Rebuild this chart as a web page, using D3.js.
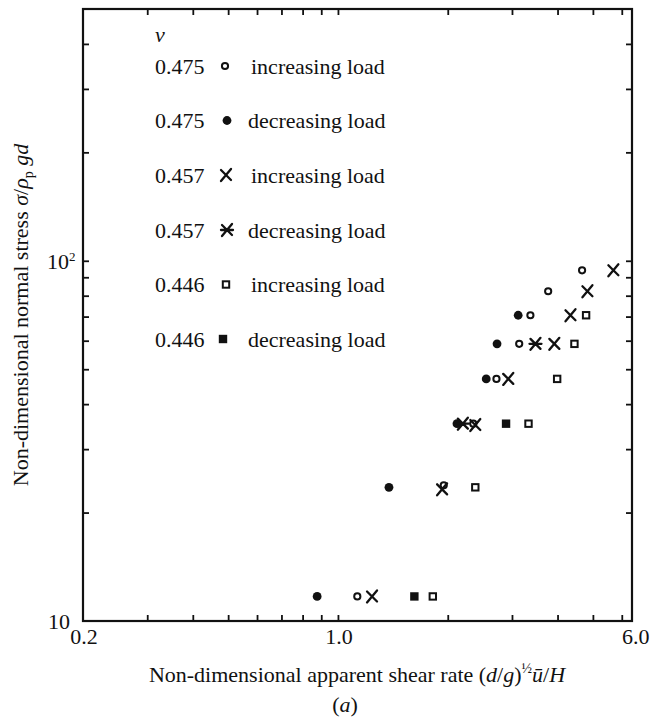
<!DOCTYPE html>
<html>
<head>
<meta charset="utf-8">
<script src="https://cdn.jsdelivr.net/npm/d3@7/dist/d3.min.js"></script>
<style>
  html, body { margin: 0; padding: 0; background: #fff; }
  svg { display: block; }
  text { font-family: "Liberation Serif", "Times New Roman", serif; fill: #111; }
</style>
</head>
<body>
<svg id="chart" width="650" height="720"></svg>
<script>
// Normal stress levels (one per load step)
const stressSteps = [11.7, 23.5, 35.3, 47.0, 58.8, 70.6, 82.3, 94.1];

// nu = 0.475
const stress475Inc = [11.7, 23.8, 35.3, 47.0, 58.8, 70.6, 82.3, 94.1];
const rate475Inc   = [1.13, 1.95, 2.35, 2.72, 3.14, 3.37, 3.77, 4.67];
const stress475Dec = [11.7, 23.5, 35.3, 47.0, 58.8, 70.6];
const rate475Dec   = [0.877, 1.38, 2.12, 2.55, 2.73, 3.12];

// nu = 0.457
const stress457Inc = [11.7, 23.2, 35.0, 47.0, 58.8, 70.6, 82.3, 94.1];
const rate457Inc   = [1.24, 1.93, 2.38, 2.93, 3.92, 4.34, 4.83, 5.69];
const stress457Dec = [35.3, 58.8];
const rate457Dec   = [2.20, 3.48];

// nu = 0.446
const stress446Inc = [11.7, 23.5, 35.3, 47.0, 58.8, 70.6];
const rate446Inc   = [1.82, 2.38, 3.33, 3.99, 4.45, 4.79];
const stress446Dec = [11.7, 35.3];
const rate446Dec   = [1.62, 2.89];

// Tick values
const xTickValues = [0.3, 0.4, 0.5, 0.6, 0.7, 0.8, 0.9, 1, 2, 3, 4, 5, 6];
const yTickValues = [20, 30, 40, 50, 60, 70, 80, 90, 100, 200, 300, 400];
const xTickLabels = [{ v: 0.2, t: "0.2" }, { v: 1, t: "1.0" }, { v: 6, t: "6.0" }];

const series = [
  { nu: "0.475", kind: "openCircle",   load: "increasing load", x: rate475Inc, y: stress475Inc },
  { nu: "0.475", kind: "filledCircle", load: "decreasing load", x: rate475Dec, y: stress475Dec },
  { nu: "0.457", kind: "cross",        load: "increasing load", x: rate457Inc, y: stress457Inc },
  { nu: "0.457", kind: "star",         load: "decreasing load", x: rate457Dec, y: stress457Dec },
  { nu: "0.446", kind: "openSquare",   load: "increasing load", x: rate446Inc, y: stress446Inc },
  { nu: "0.446", kind: "filledSquare", load: "decreasing load", x: rate446Dec, y: stress446Dec }
];

const svg = d3.select("#chart");
const plotL = 83, plotR = 632, plotT = 9, plotB = 621;

const x = d3.scaleLog().domain([0.2, 6.4]).range([plotL, plotR]);
const y = d3.scaleLog().domain([10, 500]).range([plotB, plotT]);

// Inward ticks on all four sides
const tickLen = 6;
function styleAxis(g) {
  g.select(".domain").remove();
  g.selectAll(".tick line").attr("stroke", "#111").attr("stroke-width", 1.8);
  g.selectAll(".tick text").remove();
}
svg.append("g").attr("transform", `translate(0,${plotB})`)
  .call(d3.axisBottom(x).tickValues(xTickValues).tickSize(-tickLen).tickFormat(""))
  .call(styleAxis);
svg.append("g").attr("transform", `translate(0,${plotT})`)
  .call(d3.axisTop(x).tickValues(xTickValues).tickSize(-tickLen).tickFormat(""))
  .call(styleAxis);
svg.append("g").attr("transform", `translate(${plotL},0)`)
  .call(d3.axisLeft(y).tickValues(yTickValues).tickSize(-tickLen).tickFormat(""))
  .call(styleAxis);
svg.append("g").attr("transform", `translate(${plotR},0)`)
  .call(d3.axisRight(y).tickValues(yTickValues).tickSize(-tickLen).tickFormat(""))
  .call(styleAxis);

// Frame
svg.append("rect")
  .attr("x", plotL).attr("y", plotT)
  .attr("width", plotR - plotL).attr("height", plotB - plotT)
  .attr("fill", "none").attr("stroke", "#111").attr("stroke-width", 2.2);

// Tick labels
const fs = 22;
xTickLabels.forEach((d, i) => {
  svg.append("text")
    .attr("x", x(d.v) + (i === xTickLabels.length - 1 ? 14 : 1))
    .attr("y", plotB + 23)
    .attr("text-anchor", "middle")
    .attr("font-size", fs)
    .text(d.t);
});
svg.append("text")
  .attr("x", plotL - 13).attr("y", y(10) + 8)
  .attr("text-anchor", "end").attr("font-size", fs).text("10");
const t100 = svg.append("text")
  .attr("x", plotL - 36).attr("y", y(100) + 8)
  .attr("font-size", fs);
t100.append("tspan").text("10");
t100.append("tspan").attr("font-size", 13).attr("dy", -8).text("2");

// Axis titles
const xt = svg.append("text")
  .attr("x", 357).attr("y", 682)
  .attr("text-anchor", "middle").attr("font-size", fs);
xt.append("tspan").text("Non-dimensional apparent shear rate (");
xt.append("tspan").attr("font-style", "italic").text("d");
xt.append("tspan").text("/");
xt.append("tspan").attr("font-style", "italic").text("g");
xt.append("tspan").text(")");
xt.append("tspan").attr("font-size", 14).attr("dy", -9).text("½");
xt.append("tspan").attr("dy", 9).attr("font-style", "italic").text("ū");
xt.append("tspan").text("/");
xt.append("tspan").attr("font-style", "italic").text("H");

svg.append("text")
  .attr("x", 345).attr("y", 712)
  .attr("text-anchor", "middle").attr("font-size", fs)
  .call(t => {
    t.append("tspan").text("(");
    t.append("tspan").attr("font-style", "italic").text("a");
    t.append("tspan").text(")");
  });

const yt = svg.append("text")
  .attr("transform", `translate(28,315) rotate(-90)`)
  .attr("text-anchor", "middle").attr("font-size", fs);
yt.append("tspan").text("Non-dimensional normal stress ");
yt.append("tspan").attr("font-style", "italic").text("σ");
yt.append("tspan").text("/");
yt.append("tspan").attr("font-style", "italic").text("ρ");
yt.append("tspan").attr("font-size", 14).attr("dy", 5).text("p");
yt.append("tspan").attr("dy", -5).attr("font-style", "italic").text(" gd");

// Marker shapes
function drawMarker(g, kind, cx, cy) {
  const ink = "#111";
  if (kind === "openCircle") {
    g.append("circle").attr("cx", cx).attr("cy", cy).attr("r", 3.1)
      .attr("fill", "#fff").attr("stroke", ink).attr("stroke-width", 2);
  } else if (kind === "filledCircle") {
    g.append("circle").attr("cx", cx).attr("cy", cy).attr("r", 4.4).attr("fill", ink);
  } else if (kind === "cross" || kind === "star") {
    const p = `M${cx - 5},${cy - 5}L${cx + 5},${cy + 5}M${cx + 5},${cy - 6}L${cx - 5},${cy + 6}` +
      (kind === "star" ? `M${cx - 6},${cy}L${cx + 6},${cy}` : "");
    g.append("path").attr("d", p).attr("fill", "none")
      .attr("stroke", ink).attr("stroke-width", 2.3).attr("stroke-linecap", "round");
  } else if (kind === "openSquare") {
    g.append("rect").attr("x", cx - 3.2).attr("y", cy - 3.2).attr("width", 6.4).attr("height", 6.4)
      .attr("fill", "#fff").attr("stroke", ink).attr("stroke-width", 2);
  } else if (kind === "filledSquare") {
    g.append("rect").attr("x", cx - 4.2).attr("y", cy - 4.2).attr("width", 8.4).attr("height", 8.4)
      .attr("fill", ink);
  }
}

// Data points
const pts = svg.append("g");
series.forEach(s => {
  s.x.forEach((xv, i) => drawMarker(pts, s.kind, x(xv), y(s.y[i])));
});

// Legend
const lg = svg.append("g");
lg.append("text").attr("x", 155).attr("y", 42)
  .attr("font-size", fs).attr("font-style", "italic").text("ν");
const rowY = [66, 120.5, 175, 230, 284.5, 339];
const markX = [225, 227, 226, 227, 226, 223];
series.forEach((s, i) => {
  lg.append("text").attr("x", 155).attr("y", rowY[i] + 7.5)
    .attr("font-size", fs).text(s.nu);
  drawMarker(lg, s.kind, markX[i], rowY[i]);
  lg.append("text").attr("x", s.load.startsWith("inc") ? 251 : 248).attr("y", rowY[i] + 7.5)
    .attr("font-size", fs).text(s.load);
});
</script>
</body>
</html>
